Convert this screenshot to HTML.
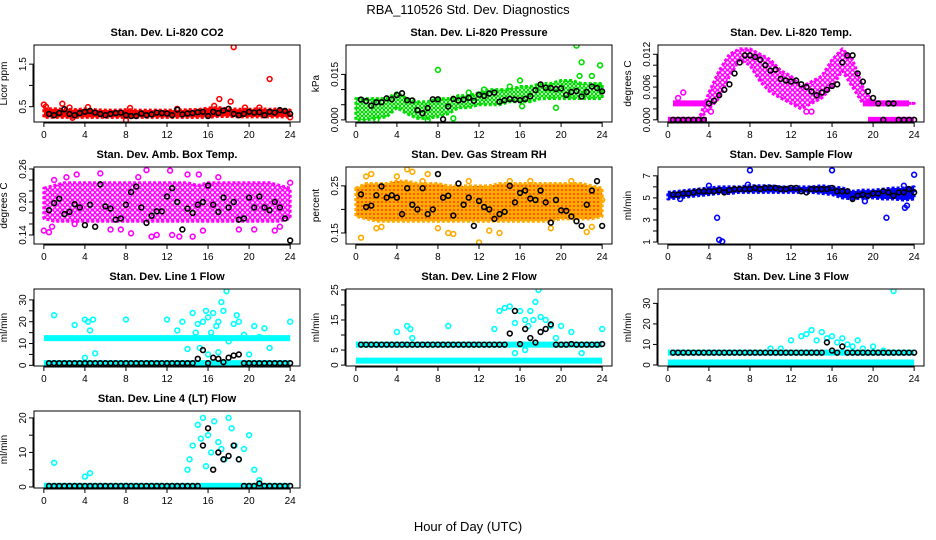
<!DOCTYPE html>
<html><head><meta charset="utf-8"><style>
html,body{margin:0;padding:0;background:#fff}
svg{display:block;font-family:"Liberation Sans",Arial,sans-serif}
</style></head><body>
<svg id="c" width="936" height="540" viewBox="0 0 936 540">
<defs>
<pattern id="pg" width="4" height="4" patternUnits="userSpaceOnUse"><rect width="4" height="4" fill="#fff"/><circle cx="2" cy="2" r="1.6" fill="none" stroke="#00dd00" stroke-width="1.2"/></pattern>
<pattern id="pm" width="5" height="5" patternUnits="userSpaceOnUse"><rect width="5" height="5" fill="#fff"/><circle cx="2.5" cy="2.5" r="2" fill="none" stroke="#ff00ff" stroke-width="1.4"/></pattern>
<pattern id="po" width="4" height="4" patternUnits="userSpaceOnUse"><rect width="4" height="4" fill="#ffaa00"/><circle cx="2" cy="2" r="0.9" fill="#ff2000"/></pattern>
</defs>
<text x="468" y="14" text-anchor="middle" font-size="13">RBA_110526  Std. Dev. Diagnostics</text>
<text x="468" y="531" text-anchor="middle" font-size="13">Hour of Day (UTC)</text>
</svg>
<script>
// ---------- data (hours 0..24; blk at 0.5h steps, band at 1h steps) ----------
const xTicks=[0,4,8,12,16,20,24];

const co2BandLo=[0.25,0.25,0.25,0.25,0.25,0.25,0.25,0.25,0.25,0.25,0.25,0.25,0.25,0.25,0.25,0.25,0.25,0.27,0.27,0.26,0.26,0.26,0.26,0.26,0.26];
const co2BandHi=[0.45,0.45,0.44,0.43,0.45,0.43,0.42,0.42,0.43,0.42,0.42,0.42,0.42,0.42,0.43,0.43,0.47,0.48,0.45,0.44,0.44,0.45,0.44,0.45,0.42];
const co2Pts=[[0,0.55],[0.2,0.5],[1.8,0.57],[2.5,0.48],[4.3,0.49],[8.4,0.47],[8,0.18],[2.8,0.24],[16.6,0.52],[17.1,0.68],[18.2,0.62],[18.5,1.9],[19.6,0.48],[21,0.48],[22,1.15],[24,0.25],[13,0.45]];
const co2Blk=[null,0.33,0.3,0.35,0.44,0.33,0.3,0.35,0.38,0.4,0.36,0.33,0.3,0.33,0.35,0.36,0.3,0.28,0.28,0.34,0.3,0.32,0.36,0.35,0.34,0.3,0.43,0.32,0.34,0.35,0.37,0.38,0.28,0.38,0.35,0.41,0.45,0.33,0.3,0.33,0.38,0.36,0.37,0.3,0.38,0.36,0.42,0.4,0.33];

const presBandLo=[0.0,0.0,0.0005,0.001,0.004,0.002,0.0005,0.0005,0.001,0.002,0.004,0.004,0.005,0.005,0.005,0.006,0.006,0.006,0.007,0.007,0.007,0.007,0.007,0.007,0.007];
const presBandHi=[0.007,0.007,0.007,0.007,0.009,0.007,0.006,0.006,0.007,0.007,0.008,0.008,0.009,0.010,0.010,0.010,0.011,0.011,0.012,0.012,0.013,0.013,0.012,0.012,0.012];
const presPts=[[8,0.0165],[21.5,0.0245],[22,0.019],[23.8,0.018],[21.8,0.0145],[23,0.0145],[16,0.013],[2,0.0],[7,0.0],[9.5,0.0005],[16.2,0.0045],[19.5,0.004],[12.5,0.010],[15,0.011],[11,0.009]];
const presBlk=[null,0.0067,0.0062,0.0047,0.0058,0.0058,0.0071,0.0068,0.0082,0.0088,0.0065,0.0064,0.0032,0.0022,0.0039,0.0068,0.0068,0.0002,0.0044,0.0069,0.0064,0.0067,0.0073,0.0063,0.0083,0.0079,0.0087,0.0090,0.0060,0.0065,0.0069,0.0067,0.0065,0.0069,0.0078,0.0098,0.0117,0.0106,0.0105,0.0102,0.0104,0.0082,0.0092,0.0095,0.0077,0.0092,0.0110,0.0105,0.0094];

const tempBandLo=[0,0,0,0,0.002,0.004,0.008,0.011,0.010,0.007,0.005,0.004,0.003,0.002,0.003,0.004,0.006,0.009,0.006,0.003,0.003,0.003,0.003,0.003,0.003];
const tempBandHi=[0,0,0,0,0.005,0.009,0.012,0.013,0.013,0.012,0.011,0.009,0.008,0.006,0.007,0.008,0.011,0.013,0.011,0.006,0.003,0.003,0.003,0.003,0.003];
const tempRuns=[[0,3.8,0],[0.5,3.8,0.003],[19.5,24,0],[19,23.5,0.003]];
const tempPts=[[1.5,0.005],[1,0.004],[4.2,0.0015],[13.5,0.0015],[14,0.0015],[19.5,0.004]];
const tempBlk=[null,0,0,0,0,0,0,0,0.003,0.0035,0.0045,0.0055,0.0065,0.0085,0.0105,0.0118,0.0118,0.0115,0.011,0.0100,0.0090,0.0092,0.0075,0.0072,0.0070,0.0072,0.0065,0.0060,0.0052,0.0045,0.0050,0.0055,0.0062,0.0065,0.0105,0.0118,0.0118,0.0085,0.0070,0.0052,0.0040,0.0030,0,0.003,0.003,0,0,0,0];

const ambBandLo=[0.17,0.165,0.165,0.165,0.165,0.165,0.165,0.165,0.165,0.165,0.165,0.165,0.165,0.165,0.165,0.165,0.165,0.165,0.165,0.165,0.165,0.165,0.165,0.165,0.17];
const ambBandHi=[0.225,0.23,0.235,0.235,0.235,0.235,0.235,0.235,0.235,0.235,0.235,0.235,0.235,0.235,0.235,0.23,0.235,0.235,0.235,0.235,0.235,0.235,0.235,0.23,0.225];
const ambPts=[[0,0.148],[0.5,0.145],[0.8,0.155],[1,0.24],[2.2,0.245],[3.2,0.25],[5.5,0.252],[7.5,0.15],[8.5,0.143],[9.2,0.245],[10,0.258],[10.5,0.137],[11,0.14],[12.3,0.257],[12.5,0.14],[13.2,0.137],[14.5,0.137],[14,0.25],[15.1,0.25],[15.5,0.148],[17,0.245],[19,0.15],[20.5,0.15],[22.5,0.148],[23,0.155],[24,0.235],[3,0.16],[6.5,0.15]];
const ambBlk=[null,0.185,0.198,0.206,0.178,0.182,0.196,0.19,0.158,0.195,0.155,0.232,0.192,0.188,0.168,0.17,0.195,0.218,0.228,0.19,0.162,0.175,0.183,0.183,0.21,0.225,0.2,0.15,0.188,0.18,0.195,0.2,0.23,0.195,0.182,0.208,0.19,0.2,0.168,0.17,0.208,0.19,0.21,0.19,0.185,0.2,0.19,0.17,0.13];

const rhBandLo=[0.185,0.18,0.175,0.175,0.175,0.175,0.175,0.175,0.175,0.175,0.175,0.175,0.175,0.175,0.175,0.175,0.175,0.175,0.175,0.175,0.18,0.18,0.18,0.18,0.185];
const rhBandHi=[0.245,0.255,0.255,0.255,0.26,0.26,0.255,0.255,0.255,0.25,0.25,0.25,0.25,0.25,0.255,0.255,0.255,0.255,0.255,0.255,0.255,0.255,0.255,0.25,0.245];
const rhPts=[[0.5,0.14],[1,0.27],[1.5,0.275],[2,0.16],[2.5,0.163],[4,0.27],[5,0.285],[5.5,0.28],[6.5,0.26],[7,0.275],[8,0.16],[9,0.15],[9.5,0.148],[11,0.26],[12,0.13],[13,0.155],[14,0.15],[15,0.26],[17,0.26],[19,0.16],[21,0.26],[22.5,0.152],[23,0.163],[24,0.22]];
const rhBlk=[null,0.232,0.205,0.208,0.23,0.249,0.225,0.23,0.225,0.19,0.245,0.21,0.2,0.245,0.19,0.2,0.275,0.225,0.229,0.187,0.255,0.21,0.225,0.165,0.218,0.205,0.2,0.18,0.19,0.195,0.25,0.215,0.235,0.24,0.223,0.22,0.24,0.215,0.172,0.22,0.198,0.197,0.185,0.175,0.165,0.21,0.24,0.26,0.165];

const flowBandLo=[4.9,5.0,5.1,5.2,5.3,5.4,5.4,5.5,5.5,5.5,5.5,5.5,5.5,5.5,5.5,5.4,5.3,5.0,4.9,5.0,5.0,4.9,4.9,4.8,4.9];
const flowBandHi=[5.5,5.6,5.7,5.8,5.9,6.0,6.0,6.0,6.1,6.1,6.1,6.0,6.0,6.0,6.0,6.1,6.0,5.9,5.6,5.7,5.7,5.8,5.9,5.9,6.0];
const flowPts=[[4.8,3.2],[5,1.2],[5.3,1.05],[8,7.5],[16,7.5],[21.3,3.2],[23.1,4.1],[23.3,4.3],[24,7.1],[4,6.1],[23,6.1],[1.2,4.9],[19.2,4.7],[7.8,6.2]];
const flowBlk=[null,5.3,5.3,5.4,5.4,5.5,5.6,5.6,5.6,5.6,5.7,5.5,5.7,5.8,5.8,5.8,5.8,5.9,5.8,5.9,5.9,5.9,5.8,5.8,5.9,5.9,5.6,5.5,5.8,5.8,5.8,5.8,5.9,5.6,5.6,5.6,4.9,5.2,5.3,5.2,5.4,5.4,5.6,5.5,5.2,5.5,5.5,5.8,5.5];

const l1Runs=[[0,24,12.5],[0,24,1]];
const l1Pts=[[1,23],[3,18.5],[4,21],[4.3,20],[4.5,16],[4.8,21],[4,3.5],[5,5.5],[8,21],[12,21],[13,16],[13.5,20],[14,7.5],[14.5,24],[14.8,15],[15,19],[15.2,8],[15.5,20],[15.8,25],[16,22],[16.3,15],[16.5,24],[16.8,18],[17,20],[17.3,29],[17.5,25],[17.8,34],[18,11],[18.5,19],[18.8,23],[19,20],[19.5,14],[20,5],[20.5,18],[21,13],[21.5,17],[22,8],[24,20],[16,5],[17,6]];
const l1Blk=[null,1,1,1,1,1,1,1,1,1,1,1,1,1,1,1,1,1,1,1,1,1,1,1,1,1,1,1,1,1,3,7,1,3.5,3,1.5,3.5,4.5,5,1,1,1,1,1,1,1,1,1,1];

const l2Runs=[[0,24,6.8],[0,24,1.5]];
const l2Pts=[[4,11],[5,13],[5.3,12],[5.5,9],[9,13],[13.5,12],[14,18],[14.5,19],[15,19.5],[15.5,14],[16,18],[16.5,15],[16.8,13],[17,18],[17.3,15],[17.5,21],[17.8,25],[18,16],[18.5,15],[19,13],[19.5,9],[20,13],[21,11],[22,4],[24,12],[15.5,4],[16.5,5]];
const l2Blk=[null,6.8,6.8,6.8,6.8,6.8,6.8,6.8,6.8,6.8,6.8,6.8,6.8,6.8,6.8,6.8,6.8,6.8,6.8,6.8,6.8,6.8,6.8,6.8,6.8,6.8,6.8,6.8,6.8,6.8,10.5,18,7,12,9,7.5,11,12,13.5,6.8,6.8,6.8,7,6.8,6.8,6.8,6.8,6.8,7];

const l3Runs=[[0,24,6],[0,24,1.2]];
const l3Pts=[[12,12],[13,14],[13.5,15],[14,17],[14.5,12],[15,16],[15.5,13],[16,14],[16.5,11],[17,13],[17.5,10],[18,9],[18.5,12],[19,8],[20,9],[21,7],[22,36],[10,8],[11,8]];
const l3Blk=[null,6,6,6,6,6,6,6,6,6,6,6,6,6,6,6,6,6,6,6,6,6,6,6,6,6,6,6,6,6,6,11,7,6,9,6,6,6,6,6,6,6,6,6,6,6,6,6,6];

const l4Runs=[[0,24,0.3]];
const l4Pts=[[1,7],[4,3],[4.5,4],[14,5],[14.5,12],[15,18],[15.3,14],[15.5,20],[16,15],[16.3,10],[16.6,19],[17,13],[17.3,11],[17.6,8],[18,20],[18.3,17],[18.6,12],[19,8],[19.5,11],[20,15],[20.5,5],[21,2],[14.2,8],[15.8,6]];
const l4Blk=[null,0.3,0.3,0.3,0.3,0.3,0.3,0.3,0.3,0.3,0.3,0.3,0.3,0.3,0.3,0.3,0.3,0.3,0.3,0.3,0.3,0.3,0.3,0.3,0.3,0.3,0.3,0.3,0.3,0.3,0.3,12,17,5,10,8,9,12,8,0.3,0.3,0.3,1,0.3,0.3,0.3,0.3,0.3,0.3];

// ---------- panel config ----------
const cols=[34,346,658], rows=[45,167,289,411], W=266, H=77;
const panels=[
 {t:'Stan. Dev. Li-820 CO2',yl:'Licor ppm',c:0,r:0,ymin:0.14,ymax:1.95,ticks:[0.5,1.0,1.5],labs:[0.5,1.5],fmt:v=>v.toFixed(1),col:'#ff0000',fill:'#ff0000',lo:co2BandLo,hi:co2BandHi,runs:[],pts:co2Pts,blk:co2Blk},
 {t:'Stan. Dev. Li-820 Pressure',yl:'kPa',c:1,r:0,ymin:-0.0007,ymax:0.0247,ticks:[0,0.005,0.01,0.015],labs:[0,0.015],fmt:v=>v.toFixed(3),col:'#00dd00',fill:'url(#pg)',lo:presBandLo,hi:presBandHi,runs:[],pts:presPts,blk:presBlk},
 {t:'Stan. Dev. Li-820 Temp.',yl:'degrees C',c:2,r:0,ymin:-0.0004,ymax:0.0137,ticks:[0,0.002,0.004,0.006,0.008,0.01,0.012],labs:[0,0.006,0.012],fmt:v=>v.toFixed(3),col:'#ff00ff',fill:'url(#pm)',lo:tempBandLo,hi:tempBandHi,runs:tempRuns,pts:tempPts,blk:tempBlk},
 {t:'Stan. Dev. Amb. Box Temp.',yl:'degrees C',c:0,r:1,ymin:0.1236,ymax:0.2636,ticks:[0.14,0.16,0.18,0.2,0.22,0.24,0.26],labs:[0.14,0.2,0.26],fmt:v=>v.toFixed(2),col:'#ff00ff',fill:'url(#pm)',lo:ambBandLo,hi:ambBandHi,runs:[],pts:ambPts,blk:ambBlk},
 {t:'Stan. Dev. Gas Stream RH',yl:'percent',c:1,r:1,ymin:0.1266,ymax:0.29,ticks:[0.15,0.2,0.25],labs:[0.15,0.25],fmt:v=>v.toFixed(2),col:'#ffaa00',fill:'url(#po)',lo:rhBandLo,hi:rhBandHi,runs:[],pts:rhPts,blk:rhBlk},
 {t:'Stan. Dev. Sample Flow',yl:'ml/min',c:2,r:1,ymin:0.82,ymax:7.8,ticks:[1,2,3,4,5,6,7],labs:[1,3,5,7],fmt:v=>String(v),col:'#0000ff',fill:'#0000ff',lo:flowBandLo,hi:flowBandHi,runs:[],pts:flowPts,blk:flowBlk},
 {t:'Stan. Dev. Line 1 Flow',yl:'ml/min',c:0,r:2,ymin:-0.3,ymax:35,ticks:[0,5,10,15,20,25,30],labs:[0,10,20,30],fmt:v=>String(v),col:'#00ffff',lo:null,hi:null,runs:l1Runs,pts:l1Pts,blk:l1Blk},
 {t:'Stan. Dev. Line 2 Flow',yl:'ml/min',c:1,r:2,ymin:-0.3,ymax:25.3,ticks:[0,5,10,15,20,25],labs:[0,5,15,25],fmt:v=>String(v),col:'#00ffff',lo:null,hi:null,runs:l2Runs,pts:l2Pts,blk:l2Blk},
 {t:'Stan. Dev. Line 3 Flow',yl:'ml/min',c:2,r:2,ymin:-0.5,ymax:37,ticks:[0,10,20,30],labs:[0,10,20,30],fmt:v=>String(v),col:'#00ffff',lo:null,hi:null,runs:l3Runs,pts:l3Pts,blk:l3Blk},
 {t:'Stan. Dev. Line 4 (LT) Flow',yl:'ml/min',c:0,r:3,ymin:-0.3,ymax:22,ticks:[0,5,10,15,20],labs:[0,10,20],fmt:v=>String(v),col:'#00ffff',lo:null,hi:null,runs:l4Runs,pts:l4Pts,blk:l4Blk}
];

const NS='http://www.w3.org/2000/svg', svg=document.getElementById('c');
function mk(tag,attrs,parent){const e=document.createElementNS(NS,tag);for(const k in attrs)e.setAttribute(k,attrs[k]);(parent||svg).appendChild(e);return e;}

panels.forEach((p,i)=>{
  const L=cols[p.c], T=rows[p.r];
  const sx=x=>L+(x+0.96)/25.92*W;
  const sy=y=>T+H-(y-p.ymin)/(p.ymax-p.ymin)*H;
  const g=mk('g',{});
  
  
  const cp=mk('clipPath',{id:'cp'+i},g);
  mk('rect',{x:L,y:T,width:W,height:H},cp);
  const plot=mk('g',{'clip-path':'url(#cp'+i+')'},g);
  
  
  if(p.lo){
    let d='';
    p.hi.forEach((v,h)=>{d+=(h?'L':'M')+sx(h)+','+sy(v);});
    for(let h=p.lo.length-1;h>=0;h--) d+='L'+sx(h)+','+sy(p.lo[h]);
    const band=mk('path',{d:d+'Z',fill:p.fill,stroke:p.col,'stroke-width':3,'stroke-linejoin':'round','stroke-dasharray':'3 2'},plot);
    
    
  }
  p.runs.forEach(r=>{
    const ln=mk('line',{x1:sx(r[0]),x2:sx(r[1]),y1:sy(r[2]),y2:sy(r[2]),stroke:p.col,'stroke-width':6},plot);
    
    
  });
  p.pts.forEach(pt=>{
    const c=mk('circle',{cx:sx(pt[0]),cy:sy(pt[1]),r:2.4,fill:'none',stroke:p.col,'stroke-width':1.6},plot);
    
    
  });
  p.blk.forEach((v,k)=>{
    if(v===null)return;
    const c=mk('circle',{cx:sx(k*0.5),cy:sy(v),r:2.4,fill:'none',stroke:'#000','stroke-width':1.6},plot);
    
    
  });
  const box=mk('rect',{x:L,y:T,width:W,height:H,fill:'none',stroke:'#000','stroke-width':1},g);
  
  
  const tt=mk('text',{x:L+W/2,y:T-9,'text-anchor':'middle','font-size':11,'font-weight':'bold'},g);
  tt.textContent=p.t;
  
  
  const yl=mk('text',{x:0,y:0,transform:'translate('+(L-27)+','+(T+H/2)+') rotate(-90)','text-anchor':'middle','font-size':10},g);
  yl.textContent=p.yl;
  
  
  mk('line',{x1:sx(0),x2:sx(24),y1:T+H+1,y2:T+H+1,stroke:'#000'},g);
  xTicks.forEach(v=>{
    mk('line',{x1:sx(v),x2:sx(v),y1:T+H,y2:T+H+5,stroke:'#000'},g);
    const tx=mk('text',{x:sx(v),y:T+H+16,'text-anchor':'middle','font-size':10},g);
    tx.textContent=v;
    
    
  });
  mk('line',{x1:L-1,x2:L-1,y1:sy(p.ticks[0]),y2:sy(p.ticks[p.ticks.length-1]),stroke:'#000'},g);
  p.ticks.forEach(v=>{
    mk('line',{x1:L-5,x2:L,y1:sy(v),y2:sy(v),stroke:'#000'},g);
  });
  p.labs.forEach(v=>{
    const ty=mk('text',{x:0,y:0,transform:'translate('+(L-8)+','+sy(v)+') rotate(-90)','text-anchor':'middle','font-size':10},g);
    ty.textContent=p.fmt(v);
    
    
  });
});
</script>
</body></html>
